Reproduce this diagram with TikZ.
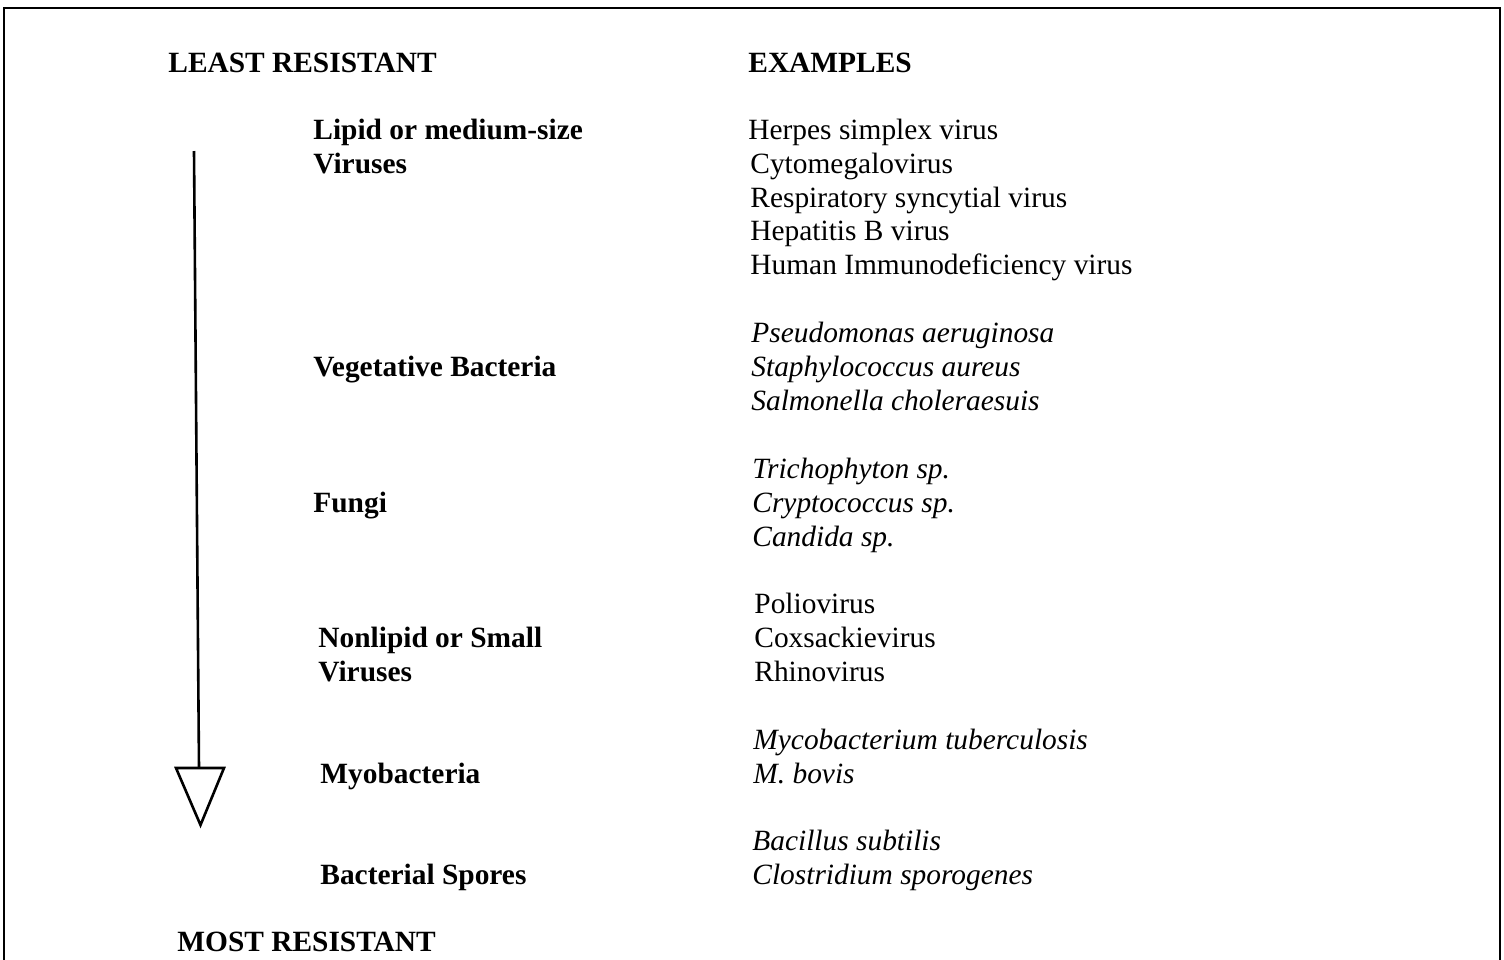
\documentclass[tikz,border=0pt]{standalone}
\usepackage{fontspec}
\setmainfont{Liberation Serif}
\begin{document}
\begin{tikzpicture}[x=0.5pt,y=-0.5pt,
  txt/.style={anchor=base west,inner sep=0pt,font=\fontsize{14.7pt}{17pt}\selectfont},
  hd/.style={txt,font=\fontsize{14.7pt}{17pt}\selectfont\bfseries},
  ex/.style={txt},
  exi/.style={txt,font=\fontsize{14.7pt}{17pt}\selectfont\itshape}]
\useasboundingbox (0,0) rectangle (1504,959);
% frame
\draw[line width=1pt] (4,975) -- (4,8) -- (1500,8) -- (1500,975);
% headings
\node[hd] (least) at (168,72) {LEAST RESISTANT};
\node[hd] (exh) at (748,72) {EXAMPLES};
\node[hd] (most) at (177,951) {MOST RESISTANT};
% categories
\node[hd] (c1a) at (313,139) {Lipid or medium-size};
\node[hd] (c1b) at (313,173) {Viruses};
\node[hd] (c2) at (313,376) {Vegetative Bacteria};
\node[hd] (c3) at (313,512) {Fungi};
\node[hd] (c4a) at (318,647) {Nonlipid or Small};
\node[hd] (c4b) at (318,681) {Viruses};
\node[hd] (c5) at (320,783) {Myobacteria};
\node[hd] (c6) at (320,884) {Bacterial Spores};
% examples
\node[ex] (e11) at (748,139) {Herpes simplex virus};
\node[ex] (e12) at (750,173) {Cytomegalovirus};
\node[ex] (e13) at (750,207) {Respiratory syncytial virus};
\node[ex] (e14) at (750,240) {Hepatitis B virus};
\node[ex] (e15) at (750,274) {Human Immunodeficiency virus};
\node[exi] (e21) at (751,342) {Pseudomonas aeruginosa};
\node[exi] (e22) at (751,376) {Staphylococcus aureus};
\node[exi] (e23) at (751,410) {Salmonella choleraesuis};
\node[exi] (e31) at (752,478) {Trichophyton sp.};
\node[exi] (e32) at (752,512) {Cryptococcus sp.};
\node[exi] (e33) at (752,546) {Candida sp.};
\node[ex] (e41) at (754,613) {Poliovirus};
\node[ex] (e42) at (754,647) {Coxsackievirus};
\node[ex] (e43) at (754,681) {Rhinovirus};
\node[exi] (e51) at (753,749) {Mycobacterium tuberculosis};
\node[exi] (e52) at (753,783) {M. bovis};
\node[exi] (e61) at (752,850) {Bacillus subtilis};
\node[exi] (e62) at (752,884) {Clostridium sporogenes};
% arrow
\coordinate (atop) at (194,151);
\coordinate (abase) at (199,768);
\draw[line width=1.3pt] (atop) -- (abase);
\draw[line width=1.3pt,line join=miter] (176,768) -- (224,768) -- (200.5,825) -- cycle;
\end{tikzpicture}
\end{document}
